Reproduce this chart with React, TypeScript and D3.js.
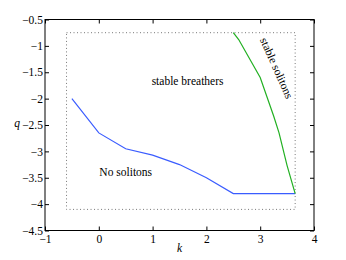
import React, { useEffect, useRef } from "react";
import * as d3 from "d3";

// boundary between no solitons and stable breathers
const breatherK = [-0.5, 0, 0.5, 1, 1.5, 2, 2.5, 3.65];
const breatherQ = [-2.0, -2.65, -2.95, -3.07, -3.25, -3.5, -3.8, -3.8];

// boundary of the stable soliton region
const solitonK = [2.5, 2.6, 3.0, 3.25, 3.35, 3.5, 3.65];
const solitonQ = [-0.75, -0.88, -1.6, -2.33, -2.65, -3.27, -3.8];

// dotted computational domain
const domainK = [-0.6, 3.65];
const domainQ = [-4.1, -0.75];

const xTicks = [-1, 0, 1, 2, 3, 4];
const yTicks = [-0.5, -1, -1.5, -2, -2.5, -3, -3.5, -4, -4.5];

const WIDTH = 346;
const HEIGHT = 260;
const MARGINS = { top: 19.5, right: 32, bottom: 29.5, left: 45 };
const FONT = "'Liberation Serif', 'Times New Roman', serif";

function fmt(d: number) {
  return String(d).replace("-", "\u2212");
}

export default function App() {
  const ref = useRef<SVGSVGElement>(null);

  useEffect(() => {
    const vis = d3.select(ref.current);
    vis.selectAll("*").remove();

    const x = d3.scaleLinear().domain([-1, 4]).range([MARGINS.left, WIDTH - MARGINS.right]);
    const y = d3.scaleLinear().domain([-4.5, -0.5]).range([HEIGHT - MARGINS.bottom, MARGINS.top]);

    vis.append("rect").attr("width", WIDTH).attr("height", HEIGHT).attr("fill", "white");

    // axes with inward ticks
    const gx = vis.append("g")
      .attr("transform", "translate(0," + y(-4.5) + ")")
      .call(d3.axisBottom(x).tickValues(xTicks).tickSizeInner(-4).tickSizeOuter(0).tickPadding(4).tickFormat((d) => fmt(d as number)));
    const gy = vis.append("g")
      .attr("transform", "translate(" + x(-1) + ",0)")
      .call(d3.axisLeft(y).tickValues(yTicks).tickSizeInner(-4).tickSizeOuter(0).tickPadding(2).tickFormat((d) => fmt(d as number)));
    vis.append("g")
      .attr("transform", "translate(0," + y(-0.5) + ")")
      .call(d3.axisTop(x).tickValues(xTicks).tickSizeInner(-4).tickSizeOuter(0).tickFormat(() => ""));
    vis.append("g")
      .attr("transform", "translate(" + x(4) + ",0)")
      .call(d3.axisRight(y).tickValues(yTicks).tickSizeInner(-4).tickSizeOuter(0).tickFormat(() => ""));

    [gx, gy].forEach((g) => g.selectAll("text").attr("font-family", FONT).attr("font-size", 11.5).attr("fill", "black"));
    vis.selectAll(".domain").remove();
    vis.selectAll(".tick line").attr("stroke", "black");

    vis.append("rect")
      .attr("x", x(-1)).attr("y", y(-0.5))
      .attr("width", x(4) - x(-1)).attr("height", y(-4.5) - y(-0.5))
      .attr("fill", "none").attr("stroke", "black").attr("stroke-width", 1);

    // dotted domain
    vis.append("rect")
      .attr("x", x(domainK[0])).attr("y", y(domainQ[1]))
      .attr("width", x(domainK[1]) - x(domainK[0])).attr("height", y(domainQ[0]) - y(domainQ[1]))
      .attr("fill", "none").attr("stroke", "#777").attr("stroke-width", 1).attr("stroke-dasharray", "1,2.5");

    const lineFunc = d3.line<[number, number]>()
      .x((d) => x(d[0]))
      .y((d) => y(d[1]));

    vis.append("path")
      .attr("d", lineFunc(breatherK.map((k, i) => [k, breatherQ[i]] as [number, number])))
      .attr("stroke", "#3a5cff").attr("stroke-width", 1.2).attr("fill", "none");
    vis.append("path")
      .attr("d", lineFunc(solitonK.map((k, i) => [k, solitonQ[i]] as [number, number])))
      .attr("stroke", "#22b022").attr("stroke-width", 1.2).attr("fill", "none");

    const label = (txt: string, px: number, py: number, rot = 0) =>
      vis.append("text")
        .attr("transform", "translate(" + px + "," + py + ") rotate(" + rot + ")")
        .attr("text-anchor", "middle")
        .attr("font-family", FONT).attr("font-size", 11.5)
        .text(txt);

    label("stable breathers", x(1.65), y(-1.75));
    label("No solitons", x(0.5), y(-3.47));
    label("stable solitons", x(3.24), y(-1.45), 66);

    label("q", 17, 127).attr("font-style", "italic");
    label("k", x(1.5), 252).attr("font-style", "italic");
  }, []);

  return (
    <svg ref={ref} width={WIDTH} height={HEIGHT} style={{ position: "absolute", left: 0, top: 0 }}></svg>
  );
}
